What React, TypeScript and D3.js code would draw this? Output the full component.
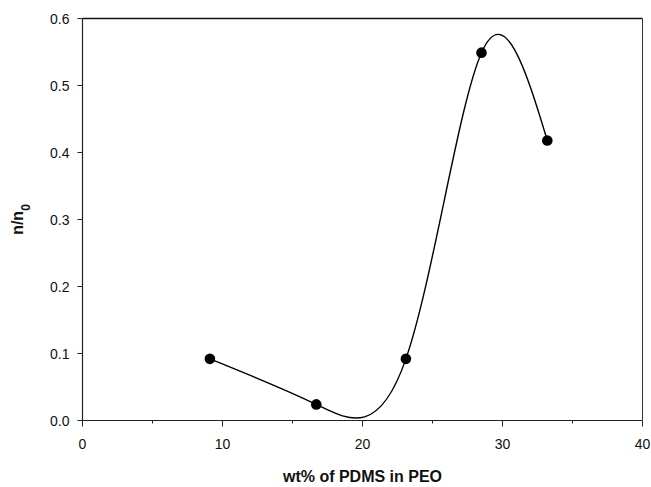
import React from "react";
import * as d3 from "d3";

const xValues = [9.1, 16.7, 23.1, 28.5, 33.2];
const yValues = [0.092, 0.024, 0.092, 0.549, 0.418];
const xTicks = [0, 10, 20, 30, 40];
const xMinorTicks = [5, 15, 25, 35];
const yTicks = [0, 0.1, 0.2, 0.3, 0.4, 0.5, 0.6];

const W = 651;
const H = 487;
const M = { left: 82.5, right: 8.5, top: 18.5, bottom: 66.5 };

export default function App() {
  const x = d3.scaleLinear().domain([0, 40]).range([M.left, W - M.right]);
  const y = d3.scaleLinear().domain([0, 0.6]).range([H - M.bottom, M.top]);
  const pts = xValues.map((v, i) => [v, yValues[i]] as [number, number]);
  const line = d3
    .line<[number, number]>()
    .x((d) => x(d[0]))
    .y((d) => y(d[1]))
    .curve(d3.curveNatural);
  const font = "Arial, 'Liberation Sans', Helvetica, sans-serif";
  const x0p = x(0);
  const x1p = x(40);
  const y0p = y(0);
  const y1p = y(0.6);
  return (
    <svg
      width={W}
      height={H}
      style={{ position: "absolute", left: 0, top: 0, background: "#fff" }}
      fontFamily={font}
    >
      <rect x={0} y={0} width={W} height={H} fill="#fff" />
      {/* frame */}
      <line x1={x0p} x2={x1p} y1={y1p} y2={y1p} stroke="#111" strokeWidth={1.5} />
      <line x1={x1p} x2={x1p} y1={y1p} y2={y0p} stroke="#333" strokeWidth={1} />
      <line x1={x0p} x2={x1p} y1={y0p} y2={y0p} stroke="#222" strokeWidth={1.2} />
      <line x1={x0p} x2={x0p} y1={y1p} y2={y0p} stroke="#222" strokeWidth={1.2} />
      {/* x ticks */}
      {xTicks.map((t) => (
        <g key={"xt" + t}>
          <line x1={x(t)} x2={x(t)} y1={y0p} y2={y0p + 6} stroke="#222" strokeWidth={1} />
          <text x={x(t)} y={y0p + 28} textAnchor="middle" fontSize={14} fill="#111">
            {t}
          </text>
        </g>
      ))}
      {xMinorTicks.map((t) => (
        <line key={"xm" + t} x1={x(t)} x2={x(t)} y1={y0p} y2={y0p + 3} stroke="#222" strokeWidth={1} />
      ))}
      {/* y ticks */}
      {yTicks.map((t) => (
        <g key={"yt" + t}>
          <line x1={x0p - 5} x2={x0p} y1={y(t)} y2={y(t)} stroke="#222" strokeWidth={1} />
          <text x={x0p - 13} y={y(t) + 5} textAnchor="end" fontSize={14} fill="#111">
            {t.toFixed(1)}
          </text>
        </g>
      ))}
      {/* curve */}
      <path d={line(pts) || ""} fill="none" stroke="#000" strokeWidth={1.4} />
      {pts.map((p, i) => (
        <circle key={"p" + i} cx={x(p[0])} cy={y(p[1])} r={5.3} fill="#000" />
      ))}
      {/* axis titles */}
      <text
        x={(x0p + x1p) / 2}
        y={482}
        textAnchor="middle"
        fontSize={16}
        fontWeight="bold"
        fill="#111"
      >
        wt% of PDMS in PEO
      </text>
      <text
        transform={`translate(23, ${(y0p + y1p) / 2}) rotate(-90)`}
        textAnchor="middle"
        fontSize={16}
        fontWeight="bold"
        fill="#111"
      >
        n/n
        <tspan baselineShift="sub" fontSize={12}>
          0
        </tspan>
      </text>
    </svg>
  );
}
